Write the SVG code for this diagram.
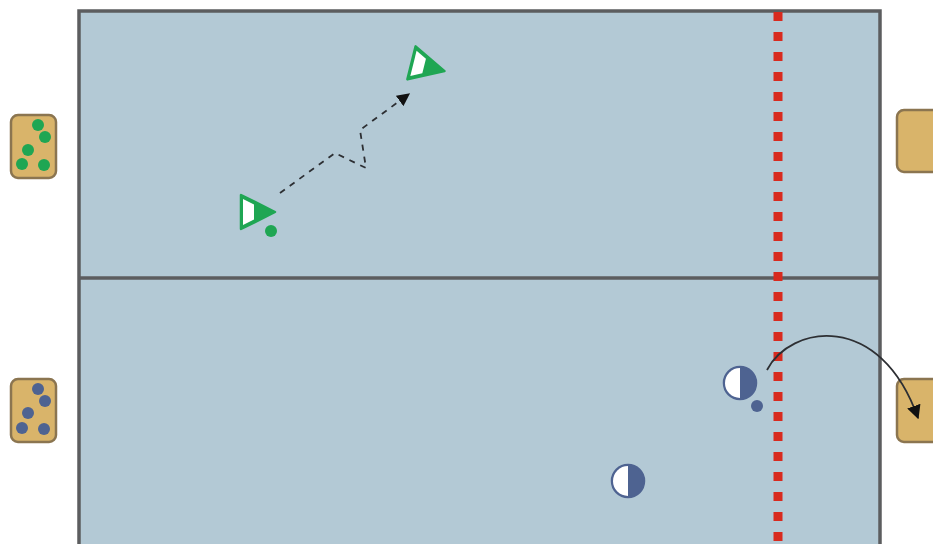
<svg xmlns="http://www.w3.org/2000/svg" width="933" height="544" viewBox="0 0 933 544">
<defs>
<style>
.field{fill:#b3c9d5;stroke:#5c5d5f;stroke-width:3.5}
.mid{stroke:#5c5d5f;stroke-width:3.5}
.box{fill:#d9b46a;stroke:#8b7550;stroke-width:2.5}
.gdot{fill:#1fa653}
.bdot{fill:#4e6391}
.gtri{fill:#1fa653;stroke:#1fa653;stroke-width:2.5;stroke-linejoin:round}
.bcirc{fill:#4e6391;stroke:#4e6391;stroke-width:2.5}
.red{stroke:#d82a1e;stroke-width:9;stroke-dasharray:9 11}
.path{fill:none;stroke:#2d2f33;stroke-width:1.8}
</style>
<marker id="ah" viewBox="0 0 10 10" refX="9" refY="5" markerWidth="13" markerHeight="13" orient="auto" markerUnits="userSpaceOnUse">
<path d="M0,0 L10,5 L0,10 z" fill="#111"/>
</marker>
<marker id="ah2" viewBox="0 0 10 10" refX="9" refY="5" markerWidth="14" markerHeight="14" orient="auto" markerUnits="userSpaceOnUse">
<path d="M0,0 L10,5 L0,10 z" fill="#111"/>
</marker>
</defs>
<rect width="933" height="544" fill="#ffffff"/>
<g id="field">
<rect class="field" x="79" y="11" width="801" height="560"/>
<line class="mid" x1="79" y1="278" x2="880" y2="278"/>
<line class="red" x1="778" y1="12" x2="778" y2="544"/>
</g>
<g id="box-green">
<rect class="box" x="11" y="115" width="45" height="63" rx="7"/>
<circle class="gdot" cx="38" cy="125" r="6"/>
<circle class="gdot" cx="45" cy="137" r="6"/>
<circle class="gdot" cx="28" cy="150" r="6"/>
<circle class="gdot" cx="22" cy="164" r="6"/>
<circle class="gdot" cx="44" cy="165" r="6"/>
</g>
<g id="box-blue">
<rect class="box" x="11" y="379" width="45" height="63" rx="7"/>
<circle class="bdot" cx="38" cy="389" r="6"/>
<circle class="bdot" cx="45" cy="401" r="6"/>
<circle class="bdot" cx="28" cy="413" r="6"/>
<circle class="bdot" cx="22" cy="428" r="6"/>
<circle class="bdot" cx="44" cy="429" r="6"/>
</g>
<g id="box-right-top">
<rect class="box" x="897" y="110" width="50" height="62" rx="7"/>
</g>
<g id="box-right-bottom">
<rect class="box" x="897" y="379" width="50" height="63" rx="7"/>
</g>
<g id="green-player-1">
<polygon class="gtri" points="241,195 241,229 275,212"/>
<polygon points="243,199 243,225 254,219.5 254,204.5" fill="#ffffff"/>
<circle class="gdot" cx="271" cy="231" r="6"/>
</g>
<g id="green-player-2">
<g transform="translate(428,67) rotate(14)">
<polygon class="gtri" points="-17,-17 -17,17 17,0"/>
<polygon points="-15,-13 -15,13 -4,7.5 -4,-7.5" fill="#ffffff"/>
</g>
</g>
<g id="blue-player-1">
<circle class="bcirc" cx="740" cy="383" r="16"/>
<path d="M740,368 A15,15 0 0 0 740,398 Z" fill="#ffffff"/>
<circle class="bdot" cx="757" cy="406" r="6"/>
</g>
<g id="blue-player-2">
<circle class="bcirc" cx="628" cy="481" r="16"/>
<path d="M628,466 A15,15 0 0 0 628,496 Z" fill="#ffffff"/>
</g>
<g id="connectors">
<polyline class="path" points="280,193 335,153 366,168 360,130 409,94" stroke-dasharray="6 6" marker-end="url(#ah)"/>
<path class="path" d="M767,370 C790,325 880,310 918,418" marker-end="url(#ah2)"/>
</g>
</svg>
